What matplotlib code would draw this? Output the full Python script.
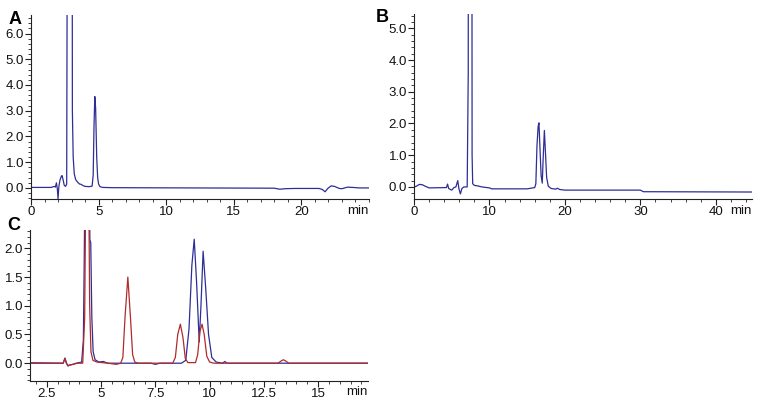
import matplotlib
matplotlib.use("Agg")
import matplotlib.pyplot as plt
from matplotlib.ticker import MultipleLocator, FormatStrFormatter

plt.rcParams['font.family'] = ['Liberation Sans', 'DejaVu Sans']

# ---- Panel A trace (time min, signal) ----
a_time = [0, 1.5, 1.7, 1.8, 1.88, 1.95, 2.0, 2.06, 2.14, 2.24, 2.3, 2.38, 2.46, 2.56, 2.64,
          2.69, 2.72, 3.02, 3.06, 3.12, 3.2, 3.3, 3.45, 3.6, 3.7, 3.85, 4.0, 4.3, 4.52, 4.6,
          4.66, 4.72, 4.78, 4.86, 4.93, 5.0, 5.1, 5.3, 6.0, 12.0, 18.0, 18.4, 18.8, 19.5,
          21.3, 21.55, 21.75, 21.95, 22.2, 22.45, 22.8, 23.0, 23.4, 23.8, 24.3, 25.0]
a_signal = [0.02, 0.02, 0.06, 0.03, 0.2, -0.05, -0.42, 0.05, 0.3, 0.45, 0.48, 0.3, 0.1, 0.06, 0.15,
            12.0, 30.0, 30.0, 3.0, 1.2, 0.55, 0.33, 0.22, 0.15, 0.14, 0.09, 0.06, 0.05, 0.07, 0.5,
            2.4, 3.55, 3.1, 1.2, 0.4, 0.15, 0.05, 0.02, 0.01, 0.0, -0.01, -0.05, -0.03, -0.02,
            -0.02, -0.06, -0.15, -0.02, 0.08, 0.06, -0.02, -0.03, 0.03, 0.02, 0.0, 0.0]

# ---- Panel B trace ----
b_time = [0, 0.3, 0.7, 1.1, 1.5, 2.0, 4.3, 4.45, 4.6, 5.0, 5.3, 5.55, 5.8, 5.95, 6.15, 6.35,
          6.6, 7.05, 7.19, 7.25, 7.62, 7.7, 7.78, 8.0, 8.5, 9.0, 10.0, 10.3, 15.0, 16.0, 16.15,
          16.3, 16.45, 16.56, 16.7, 16.85, 17.0, 17.12, 17.28, 17.42, 17.58, 17.8, 18.2, 18.8,
          19.0, 19.3, 20.0, 30.0, 30.4, 45.0]
b_signal = [0.0, 0.02, 0.08, 0.07, 0.02, -0.03, -0.02, 0.09, -0.05, -0.1, -0.02, 0.0, 0.2, -0.05,
            -0.22, -0.05, 0.0, 0.0, 3.6, 30.0, 30.0, 1.0, 0.1, 0.05, 0.03, 0.0, -0.03, -0.06,
            -0.06, -0.02, 0.1, 1.3, 1.9, 2.02, 1.2, 0.35, 0.12, 0.9, 1.78, 1.1, 0.3, 0.02,
            -0.05, -0.07, -0.04, -0.08, -0.1, -0.1, -0.15, -0.16]

# ---- Panel C traces ----
c_blue_time = [1.75, 3.25, 3.33, 3.4, 3.47, 3.55, 3.7, 3.85, 4.1, 4.18, 4.22, 4.26, 4.45, 4.48,
               4.52, 4.57, 4.63, 4.72, 4.9, 5.1, 5.3, 7.3, 7.5, 7.7, 8.7, 8.9, 9.05, 9.18, 9.29,
               9.4, 9.52, 9.6, 9.7, 9.82, 9.95, 10.1, 10.3, 10.6, 10.7, 10.8, 17.3]
c_blue_signal = [0.0, 0.0, 0.09, 0.0, -0.05, -0.03, -0.02, 0.0, 0.02, 0.4, 1.8, 3.5, 3.5, 2.15,
                 2.1, 0.8, 0.2, 0.06, 0.02, 0.03, 0.0, 0.0, -0.02, 0.0, 0.0, 0.05, 0.6, 1.7, 2.16,
                 1.4, 0.37, 1.0, 1.95, 1.3, 0.5, 0.1, 0.02, 0.0, 0.03, 0.0, 0.0]
c_red_time = [1.75, 3.25, 3.33, 3.4, 3.47, 3.7, 3.9, 4.15, 4.24, 4.3, 4.42, 4.47, 4.53, 4.62,
              4.8, 5.3, 5.7, 5.9, 6.0, 6.1, 6.23, 6.35, 6.45, 6.55, 6.7, 8.3, 8.42, 8.53, 8.65,
              8.77, 8.88, 9.0, 9.35, 9.45, 9.55, 9.65, 9.75, 9.87, 10.0, 10.2, 13.15, 13.3,
              13.4, 13.5, 13.65, 17.3]
c_red_signal = [0.01, 0.0, 0.08, 0.0, -0.04, -0.02, 0.0, 0.0, 0.8, 3.5, 3.5, 1.0, 0.2, 0.05,
                0.02, 0.0, -0.02, 0.0, 0.1, 0.8, 1.5, 0.8, 0.15, 0.02, 0.0, 0.0, 0.1, 0.5, 0.68,
                0.45, 0.08, 0.01, 0.01, 0.15, 0.55, 0.68, 0.5, 0.12, 0.02, 0.0, 0.0, 0.04, 0.06,
                0.04, 0.0, 0.0]

a_yticks = [0.0, 1.0, 2.0, 3.0, 4.0, 5.0, 6.0]
a_xticks = [0, 5, 10, 15, 20]
b_yticks = [0.0, 1.0, 2.0, 3.0, 4.0, 5.0]
b_xticks = [0, 10, 20, 30, 40]
c_yticks = [0.0, 0.5, 1.0, 1.5, 2.0]
c_xticks = [2.5, 5, 7.5, 10, 12.5, 15]
c_xlabels = ['2.5', '5', '7.5', '10', '12.5', '15']

BLUE = '#2e2e96'
RED = '#b22a2a'
FS = 9.5
LFS = 13

fig = plt.figure(figsize=(7.58, 4.05), dpi=100)
W, H = 758, 405

def make_ax(l, r, t, b):
    return fig.add_axes([l / W, 1 - b / H, (r - l) / W, (b - t) / H])

def style(ax, xlim, ylim, xmin, ymin):
    ax.set_xlim(*xlim)
    ax.set_ylim(*ylim)
    for s in ['top', 'right']:
        ax.spines[s].set_visible(False)
    for s in ['left', 'bottom']:
        ax.spines[s].set_linewidth(0.8)
        ax.spines[s].set_color('#222222')
    ax.xaxis.set_minor_locator(MultipleLocator(xmin))
    ax.yaxis.set_minor_locator(MultipleLocator(ymin))
    ax.tick_params(which='major', length=4, width=0.8, pad=1.0, labelsize=FS, colors='#222222')
    ax.tick_params(which='minor', length=2.5, width=0.6, colors='#222222')
    ax.tick_params(axis='both', labelcolor='#111111')
    ax.yaxis.set_major_formatter(FormatStrFormatter('%.1f'))
    ax.text(1.0, -0.03, 'min', transform=ax.transAxes, ha='right', va='top', fontsize=FS,
            color='#111111')

# Panel A
axA = make_ax(31, 369, 15, 199)
axA.plot(a_time, a_signal, color=BLUE, lw=0.9)
axA.set_xticks(a_xticks)
axA.set_yticks(a_yticks)
style(axA, (0, 25), (-0.43, 6.72), 1, 0.2)
fig.text(9 / W, 1 - 24 / H, 'A', fontsize=LFS, fontweight='bold', va='baseline', ha='left')

# Panel B
axB = make_ax(414, 752, 14, 199)
axB.plot(b_time, b_signal, color=BLUE, lw=0.9)
axB.set_xticks(b_xticks)
axB.set_yticks(b_yticks)
style(axB, (0, 44.8), (-0.38, 5.45), 2, 0.2)
fig.text(376 / W, 1 - 22 / H, 'B', fontsize=LFS, fontweight='bold', va='baseline', ha='left')

# Panel C
axC = make_ax(30, 368, 230, 381)
axC.plot(c_blue_time, c_blue_signal, color=BLUE, lw=0.9)
axC.plot(c_red_time, c_red_signal, color=RED, lw=0.9)
axC.set_xticks(c_xticks)
axC.set_xticklabels(c_xlabels)
axC.set_yticks(c_yticks)
style(axC, (1.72, 17.3), (-0.31, 2.32), 0.5, 0.1)
fig.text(7 / W, 1 - 230 / H, 'C', fontsize=LFS, fontweight='bold', va='baseline', ha='left')

fig.savefig('out.png', dpi=100)
